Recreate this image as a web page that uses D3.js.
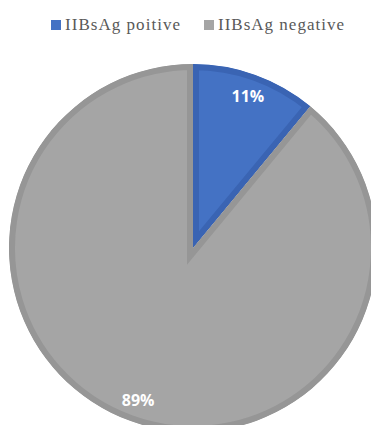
<!DOCTYPE html>
<html><head><meta charset="utf-8">
<script src="https://cdn.jsdelivr.net/npm/d3@7"></script>
<style>html,body{margin:0;padding:0;background:#fff;}</style>
</head><body>
<svg id="chart" width="371" height="425"></svg>
<script>
const categories = ["IIBsAg poitive", "IIBsAg negative"];
const values = [11, 89];
const labels = ["11%", "89%"];
const colors = ["#4472C4", "#A5A5A5"];
const borders = ["#3A64B3", "#969696"];

const svg = d3.select("#chart");
const cx = 193, cy = 248, r = 184;
const pie = d3.pie().sort(null).value(d => d)(values);
const arc = d3.arc().innerRadius(0).outerRadius(r);
const labelArc = d3.arc().innerRadius(r * 0.88).outerRadius(r * 0.88);

const defs = svg.append("defs");
const g = svg.append("g").attr("transform", `translate(${cx},${cy})`);
pie.forEach((p, i) => {
  defs.append("clipPath").attr("id", "clip" + i).append("path").attr("d", arc(p));
  g.append("path").attr("d", arc(p)).attr("fill", colors[i])
    .attr("stroke", borders[i]).attr("stroke-width", 12)
    .attr("clip-path", `url(#clip${i})`);
});

pie.forEach((p, i) => {
  const [x, y] = labelArc.centroid(p);
  g.append("text").attr("x", x).attr("y", y)
    .attr("text-anchor", "middle").attr("dominant-baseline", "central")
    .attr("font-family", "Open Sans, Liberation Sans, sans-serif")
    .attr("font-weight", "bold").attr("font-size", 16).attr("fill", "#fff")
    .text(labels[i]);
});

// legend
const legendX = [51, 204];
const legendW = [115, 126];
categories.forEach((c, i) => {
  svg.append("rect").attr("x", legendX[i]).attr("y", 20).attr("width", 10).attr("height", 10).attr("fill", colors[i]);
  svg.append("text").attr("x", legendX[i] + 14).attr("y", 30)
    .attr("font-family", "Liberation Serif, Times New Roman, serif")
    .attr("font-size", 17).attr("fill", "#595959")
    .attr("textLength", legendW[i]).attr("lengthAdjust", "spacing")
    .text(c);
});
</script>
</body></html>
